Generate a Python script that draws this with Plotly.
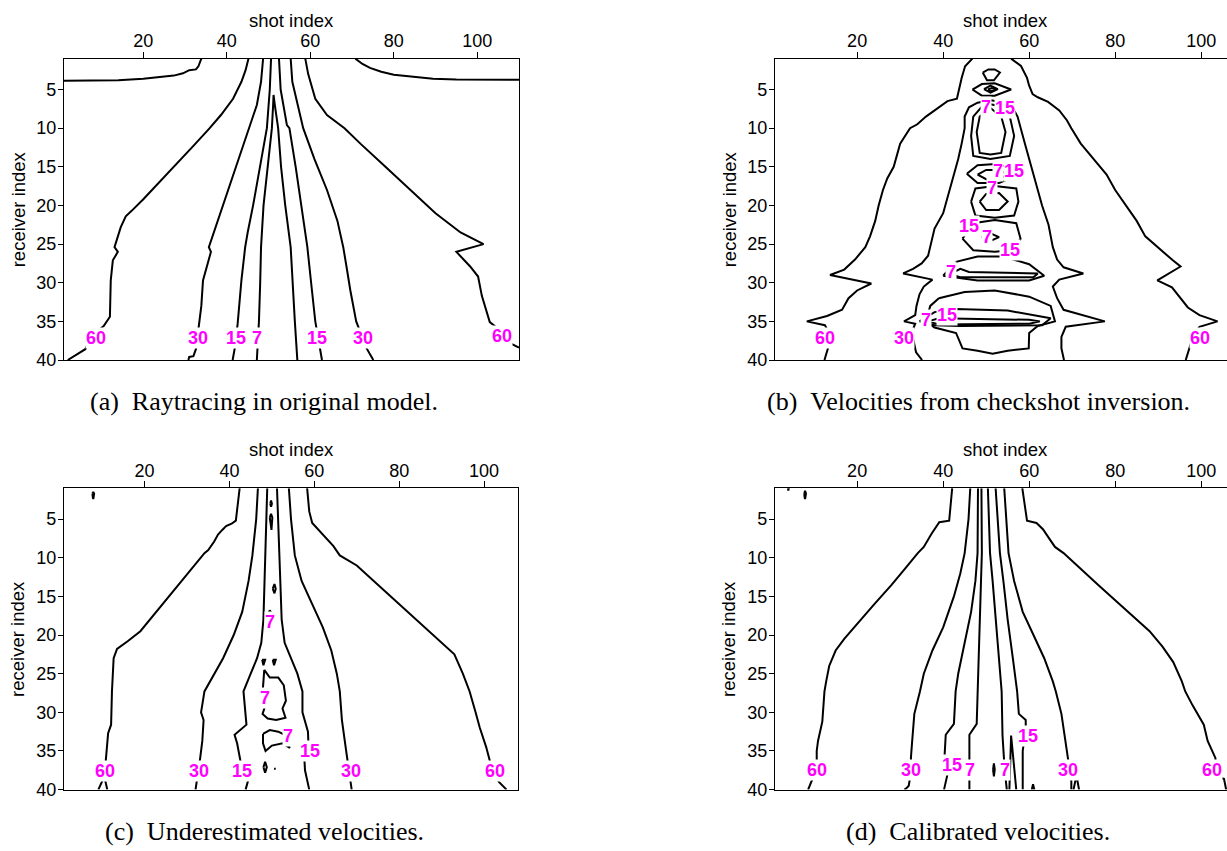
import plotly.graph_objects as go

W, H = 1227, 851
FONT = "Liberation Sans"
MAGENTA = "#ff00ff"

# ---------------- (a) Raytracing in original model ----------------
a_60_corner_l = [(1, 3.85), (8, 3.85), (14, 3.8), (20, 3.6), (24, 3.4), (27.3, 3.2), (29.5, 2.9),
                 (31, 2.5), (32.6, 2.4), (33.2, 2.0), (33.9, 1)]
a_60_corner_r = [(70.8, 1), (72.5, 1.7), (74.3, 2.2), (77, 2.7), (80, 3.1), (85, 3.4), (89.4, 3.6),
                 (95, 3.7), (102, 3.75), (110, 3.75)]
a_60_left = [(45.2, 1), (44.5, 2.5), (43.5, 4), (41.5, 6.2), (38.6, 8.3), (35.9, 10), (32, 12.3),
             (28, 14.6), (24, 17), (20, 19.2), (17.2, 20.7), (15.8, 21.4), (14.6, 22.8), (13.8, 24.3),
             (13.1, 25.4), (13.9, 26), (12.7, 27.1), (12.2, 29.7), (12.0, 34.4), (10.5, 35.6),
             (7.5, 37), (6.1, 38.6), (1.9, 40)]
a_30_left = [(48.7, 1), (48.2, 4), (47.2, 7), (45.3, 10), (43.5, 13), (41, 17), (38.5, 21), (36.5, 24),
             (35.7, 25.4), (36.2, 26), (35.3, 27.9), (34.3, 29.7), (33.9, 33), (33.4, 35.3),
             (32.6, 38.6), (32, 39.5), (31, 39.6), (30.8, 40)]
a_15_left = [(50.6, 1), (50.3, 5), (49.6, 10), (48, 15), (46.3, 20), (45, 23.5), (44.4, 25.4),
             (43.5, 29.7), (42.6, 35.3), (41.9, 38.5), (41.4, 40)]
a_7 = [(47.2, 40), (47.7, 35), (48.0, 30), (48.2, 25.4), (48.8, 20), (49.8, 15), (50.8, 10),
       (51.1, 7), (51.2, 5.7), (51.5, 7), (52.3, 10), (53, 15), (54, 20), (55.3, 25.4), (55.7, 30),
       (56.3, 35), (56.9, 40)]
a_15_right = [(52.5, 1), (52.9, 5), (54.4, 9.6), (55, 10), (56.5, 15), (57.8, 20), (59.3, 25.4),
              (60.2, 30), (61.2, 35), (62.8, 40)]
a_30_right = [(55.3, 1), (55.7, 4), (57, 7), (58.3, 10), (61, 14), (64, 18), (66.5, 22), (67.9, 25.4),
              (68.7, 28), (69.6, 31), (71, 35), (73.5, 38.5), (75.1, 40)]
a_60_right = [(58.8, 1), (59.5, 3), (61.2, 6.2), (64, 8.3), (68.2, 10), (72, 12), (78, 15), (84, 18),
              (90, 21), (96, 23.5), (101.5, 25.0), (95, 26), (98.3, 27.9), (100.2, 29.2),
              (101.1, 31.7), (103, 35.1), (104.4, 35.7), (106, 37), (108.2, 37.9), (110, 38.4)]
a_paths = [a_60_corner_l, a_60_corner_r, a_60_left, a_30_left, a_15_left, a_7,
           a_15_right, a_30_right, a_60_right]
a_labels = [("60", 8.7, 37.1), ("30", 33.2, 37.1), ("15", 42.3, 37.1), ("7", 47.2, 37.1),
            ("15", 61.7, 37.1), ("30", 72.6, 37.1), ("60", 105.9, 36.9)]

# ---------------- (b) Velocities from checkshot inversion ----------------
b_60_left = [(46.8, 1), (45.1, 2), (44.3, 3.5), (43.6, 5), (43.2, 6.2), (41, 6.5), (38.5, 7.5),
             (36, 8.5), (34, 9.5), (32.3, 10), (30, 12), (29, 14), (28.5, 15), (27, 16.5), (26, 18),
             (25, 20), (24.2, 22), (23, 24), (21.9, 25.4), (19.5, 27), (17, 28.3), (13.7, 29),
             (18, 29.5), (23.3, 30.1), (20, 31), (18, 32), (16.5, 33.5), (13, 34.3), (8.3, 35),
             (12.5, 35.5), (13, 36), (12.6, 37.2), (13.2, 38.5), (12.4, 40)]
b_60_right = [(55.8, 1), (58.1, 1.95), (59.5, 3.5), (60, 4.5), (60.8, 5.6), (62, 6), (64.4, 6.6),
              (67, 7.7), (68.8, 9), (69.8, 10), (72, 12), (75, 14), (78, 16), (80, 18), (82.5, 20),
              (85, 22), (87, 24), (89.8, 25.4), (93.4, 27.1), (95.2, 27.9), (89.8, 29.7),
              (93.2, 30.6), (95, 31.9), (96.9, 33.2), (99.6, 34.2), (103.8, 35), (99.6, 35.7),
              (98.5, 36.5), (97.8, 37.5), (96.9, 39.1), (96.4, 40)]
b_30 = [(35.1, 40), (33.7, 39), (33, 37.2), (33, 36), (33.5, 35.3), (30.9, 35), (33.5, 34.2),
        (33.8, 33), (34.5, 31.5), (35.5, 30.5), (37.5, 29.6), (30.7, 28.8), (33, 28.2), (35, 27.5),
        (36.5, 26.5), (37, 25.4), (38, 23), (40, 21), (41, 19), (42.5, 16), (43.5, 14), (44.3, 12),
        (45, 10), (45, 8.5), (46, 7.3), (48, 6.7), (51, 6.4), (54, 6.6), (56, 7.2), (57.3, 8.5),
        (58.1, 10), (59, 12), (60, 14), (61, 16), (62, 18), (63, 20), (64.5, 22.5), (65.5, 25.4),
        (66.5, 27), (68, 28), (72.6, 28.8), (67, 29.6), (65.5, 30.5), (66.5, 32), (68, 33.5),
        (77.6, 35), (68.5, 35.7), (67.5, 37), (67.5, 38.5), (68.1, 40)]
b_top_cup = [(49.2, 2.8), (50.5, 2.4), (52, 2.4), (53.2, 2.8), (51.8, 3.8), (50.2, 3.8), (49.2, 2.8)]
b_lens_outer = [(46.8, 5.0), (49, 4.3), (52, 4.2), (55.8, 5.0), (52, 5.8), (49, 5.8), (46.8, 5.0)]
b_lens_mid = [(49.5, 4.95), (51, 4.5), (52.7, 4.95), (51, 5.4), (49.5, 4.95)]
b_lens_in = [(50.4, 5.0), (51.3, 4.8), (52.2, 5.0), (51.3, 5.2), (50.4, 5.0)]
b_15_l1 = [(51, 6.9), (53.5, 7.2), (55.5, 8.5), (56.5, 11), (55.5, 13.6), (51, 14), (47, 13.6),
           (46.5, 11), (47, 8.5), (49, 7.2), (51, 6.9)]
b_7_l1 = [(51, 7.4), (53.5, 8.5), (54.5, 10.5), (53.5, 13.2), (51, 13.4), (48.5, 13.2),
          (47.8, 10.5), (48.5, 8.5), (51, 7.4)]
b_15_l2 = [(45.5, 15.9), (48, 14.8), (53, 14.6), (58, 15.9), (53, 17.1), (48, 17.1), (45.5, 15.9)]
b_7_l2 = [(48, 16.0), (50, 15.4), (53, 15.4), (55, 16.0), (53, 16.6), (50, 16.6), (48, 16.0)]
b_15_l3 = [(46.5, 19.5), (47.5, 17.8), (52, 17.5), (57, 17.8), (57.5, 19.5), (56.5, 21.3),
           (52, 21.6), (47.5, 21.3), (46.5, 19.5)]
b_7_l3 = [(48.5, 19.5), (50, 18.5), (53, 18.4), (55, 19.5), (53, 20.6), (50, 20.6), (48.5, 19.5)]
b_15_l4 = [(44.5, 24.3), (47, 22.3), (52, 21.9), (57, 22.3), (58, 24.3), (56, 25.8), (52, 26),
           (47, 25.8), (44.5, 24.3)]
b_7_l4 = [(49, 24.1), (51, 23.6), (53, 24.1), (51, 24.6), (49, 24.1)]
b_15_l5 = [(40, 29.1), (43, 27.3), (48, 26.6), (54, 26.6), (60, 27.6), (63.5, 29.1), (60, 29.7),
           (48, 29.7), (40, 29.1)]
b_7_l5 = [(41.5, 28.9), (44, 28.2), (46, 28.6), (62, 28.8), (61, 29.3), (44, 29.3), (41.5, 28.9)]
b_15_l6 = [(34.5, 35), (38, 33.8), (43, 33.4), (55, 33.6), (65, 34.6), (63, 35.5), (44, 35.6),
           (38, 35.5), (34.5, 35)]
b_7_l6 = [(36.5, 35), (39, 34.6), (60, 34.8), (62.5, 35.0), (60, 35.3), (39, 35.4), (36.5, 35)]
b_30_l7 = [(39, 32), (45, 31.2), (52, 31), (60, 31.8), (65, 33), (66, 35), (62, 35.6), (60, 36.5),
           (59.9, 38.5), (55, 38.8), (51.5, 39.2), (48, 38.8), (44.5, 38.5), (43, 36.5), (38, 35.8),
           (36, 35), (37, 33), (39, 32)]
b_paths = [b_60_left, b_60_right, b_30, b_top_cup, b_lens_outer, b_lens_mid, b_lens_in,
           b_15_l1, b_7_l1, b_15_l2, b_7_l2, b_15_l3, b_7_l3, b_15_l4, b_7_l4, b_15_l5, b_7_l5,
           b_15_l6, b_7_l6, b_30_l7]
b_labels = [("7", 50.0, 7.3), ("15", 54.4, 7.4), ("7", 52.8, 15.5), ("15", 56.4, 15.5),
            ("7", 51.4, 17.7), ("15", 46.0, 22.6), ("7", 50.2, 24.1), ("15", 55.6, 25.8),
            ("7", 41.8, 28.6), ("15", 40.9, 34.2), ("7", 35.9, 34.8), ("60", 12.6, 37.2),
            ("30", 31.0, 37.2), ("60", 99.7, 37.2)]

# ---------------- (c) Underestimated velocities ----------------
c_60_left = [(42.4, 1), (41.9, 3), (41.5, 5.2), (40.5, 5.6), (39.2, 5.9), (38.3, 6.4), (37.3, 7),
             (36.4, 7.9), (35, 9), (34.1, 9.4), (31, 11.5), (28, 13.5), (25, 15.5), (22, 17.5),
             (19, 19.5), (16, 20.8), (13.5, 21.8), (12.7, 23), (12.5, 25), (12.3, 27.3),
             (12.1, 31.6), (11.4, 32.7), (10.9, 35.9), (10.5, 38.3), (9.1, 40)]
c_60_tail = [(10.5, 38.3), (11.2, 40)]
c_30_left = [(46.7, 1), (46.3, 5), (45.4, 9.7), (44.5, 13), (43, 17), (41, 20), (38.5, 23),
             (36, 25.5), (34.1, 27.3), (33.6, 29), (33.3, 30), (33.9, 31), (33.6, 33.7),
             (33.1, 35.9), (32.4, 38.8), (32, 40)]
c_15_left = [(48.9, 1), (48.7, 5), (48.4, 9.7), (48.2, 14), (48.0, 18), (47.5, 21), (46.5, 23),
             (45, 25), (43.3, 27.3), (44, 31.6), (41.2, 32.9), (41.8, 34), (42.5, 35.8), (43, 37.5),
             (44.4, 38.8), (43.8, 40)]
c_15_right = [(51.2, 1), (51.5, 5), (51.8, 9.7), (52, 14), (52.3, 18), (53, 21), (54.5, 23),
              (56, 25), (57.2, 27.3), (57.2, 30), (58.5, 32.5), (58.6, 34), (57.6, 35.5),
              (57.8, 37.5), (58.8, 40)]
c_30_right = [(54, 1), (54.5, 5), (55.4, 9.7), (57, 13), (59.5, 16), (62, 19), (64, 22),
              (65.3, 25), (66, 27.3), (66.5, 31), (67.5, 35), (68.2, 37.6), (68.8, 40)]
c_60_right = [(58.3, 1), (58.8, 4), (59.5, 5.5), (62, 7), (64.5, 8.5), (66, 9.7), (70, 11),
              (74, 13), (78, 15), (82, 17), (86, 19), (90, 21), (93, 22.5), (95, 25), (96.6, 27.3),
              (98, 30), (99, 32), (100.5, 34.5), (102, 37.6), (103.5, 39), (105.3, 40)]
c_dot_corner = [(7.7, 1.7), (7.9, 1.5), (8.1, 1.7), (8.0, 2.2), (7.9, 2.4), (7.8, 2.2), (7.7, 1.7)]
c_7_dot1 = [(49.6, 3.0), (49.8, 2.6), (50.0, 3.0), (49.8, 3.4), (49.6, 3.0)]
c_7_drop = [(49.5, 4.8), (49.8, 4.3), (50.1, 4.8), (49.9, 6.4), (49.5, 4.8)]
c_7_mid1 = [(50.2, 14.0), (50.6, 13.4), (50.9, 14.0), (50.6, 14.6), (50.2, 14.0)]
c_7_mid2 = [(48.9, 17.5), (49.5, 16.8), (50.2, 17.5), (50.0, 19.0), (49.3, 19.0), (48.9, 17.5)]
c_7_tri1 = [(47.7, 23.2), (48.4, 23.2), (48.0, 23.9), (47.7, 23.2)]
c_7_tri2 = [(50.2, 23.2), (50.9, 23.2), (50.5, 23.9), (50.2, 23.2)]
c_7_big1 = [(48.2, 24.5), (49.5, 25.5), (51.5, 25.5), (52.8, 26.5), (53.3, 28.5), (52.5, 29.5),
            (53.2, 30.7), (51, 31.0), (49, 30.8), (47.8, 30.2), (48.5, 29), (47.8, 27.5),
            (48.2, 24.5)]
c_7_big2 = [(47.9, 32.8), (49.5, 32.3), (51.5, 32.5), (53.0, 32.9), (54.2, 34.6), (52.5, 34.0),
            (50, 34.3), (48.5, 35.0), (47.9, 34.0), (47.9, 32.8)]
c_7_diamond = [(48.0, 37.1), (48.4, 36.4), (48.8, 37.1), (48.4, 37.8), (48.0, 37.1)]
c_7_speck = [(50.5, 37.3), (50.9, 37.3)]
c_paths = [c_60_left, c_60_tail, c_30_left, c_15_left, c_15_right, c_30_right, c_60_right,
           c_dot_corner, c_7_dot1, c_7_drop, c_7_mid1, c_7_mid2, c_7_tri1, c_7_tri2, c_7_big1,
           c_7_big2, c_7_diamond, c_7_speck]
c_labels = [("7", 49.5, 18.3), ("7", 48.4, 28.2), ("7", 53.8, 33.1), ("15", 59.0, 35.0),
            ("60", 10.7, 37.6), ("30", 32.7, 37.6), ("15", 42.9, 37.6), ("30", 68.6, 37.6),
            ("60", 102.6, 37.6)]

# ---------------- (d) Calibrated velocities ----------------
d_60_left = [(42.1, 1), (41.8, 3), (41.4, 5.2), (39.1, 5.4), (37.3, 6.9), (35.5, 8.6), (34.1, 9.4),
             (31, 11.5), (28, 13.5), (24, 16), (20, 18.5), (17, 20.5), (15, 22), (13.5, 24),
             (12.8, 26), (12.4, 27.3), (11.9, 31.2), (10.9, 33.7), (10.6, 35), (10.6, 37.4),
             (9.7, 38.5), (8.6, 40)]
d_30_left = [(46.3, 1), (45.9, 5), (45, 9.4), (44, 12), (42.5, 15), (40, 19), (37.5, 22),
             (35.5, 25), (34.6, 27.3), (33.3, 30.2), (32.8, 33.7), (32.5, 35.9), (32.6, 37.4),
             (32, 39.5), (31.5, 39.8), (31, 40)]
d_15_left = [(48.1, 1), (48, 5), (48, 9.4), (47.5, 13), (46.5, 17), (45, 21), (43.5, 25),
             (42.9, 27.3), (42.5, 31.5), (40.6, 32.9), (40.3, 35.9), (41.5, 36.8), (40.5, 39),
             (40.2, 40)]
d_7_left = [(48.9, 1), (49, 5), (49, 9.4), (48.8, 13), (48.5, 18), (48.2, 23), (48, 27.3),
            (47.8, 31.5), (46.1, 32.9), (46.1, 37.4), (46.1, 40)]
d_7_right = [(50.4, 1), (50.6, 5), (50.9, 9.4), (51.5, 13), (52.2, 18), (53, 23), (53.6, 27.3),
             (53.8, 33), (54.3, 37.4), (54.8, 40)]
d_15_right = [(52.2, 1), (52.6, 5), (53.2, 9.4), (54, 13), (55, 18), (56.2, 23), (57.2, 27.3),
              (57.6, 30.2), (59.2, 31), (59.2, 32.1), (58.5, 35), (58.5, 40)]
d_30_right = [(54.2, 1), (54.6, 5), (55.2, 9.4), (56.5, 13), (58.5, 17), (61, 20), (63.5, 23),
              (65.5, 26), (66.2, 27.3), (67.5, 30.2), (68.5, 33.7), (69, 35.9), (69.8, 38.9),
              (69.8, 40)]
d_30_bump = [(70.3, 40), (71, 38.2), (71.6, 40)]
d_60_right = [(58.4, 1), (59.5, 5.2), (61.7, 5.5), (63.2, 6.3), (64.4, 7.3), (66, 8.6), (68, 9.4),
              (72, 11.5), (76, 13.5), (80, 15.5), (84, 17.5), (88, 19.5), (91, 21.5),
              (93.5, 23.5), (95.5, 26), (96.3, 27.3), (98, 29.1), (99.5, 30.5), (100.6, 31.6),
              (101.5, 33.7), (103.3, 35.9), (103.5, 37.4), (104.5, 38.5), (105.3, 38.6),
              (105.8, 40)]
d_dot_corner = [(3.9, 1.0), (4.1, 1.0), (4.0, 1.3), (3.9, 1.0)]
d_drop_corner = [(7.7, 1.7), (7.9, 1.35), (8.1, 1.7), (8.0, 2.2), (7.9, 2.4), (7.8, 2.2), (7.7, 1.7)]
d_7_oval = [(51.6, 37.4), (51.8, 36.6), (52.0, 37.4), (51.8, 38.3), (51.6, 37.4)]
d_7_spike = [(55.4, 40), (55.8, 33.0), (57.0, 40)]
d_15_bump = [(60.6, 40), (60.9, 39.3), (61.2, 40)]
d_paths = [d_60_left, d_30_left, d_15_left, d_7_left, d_7_right, d_15_right, d_30_right,
           d_30_bump, d_60_right, d_dot_corner, d_drop_corner, d_7_oval, d_7_spike, d_15_bump]
d_labels = [("60", 10.6, 37.4), ("30", 32.6, 37.4), ("15", 42.0, 36.8), ("7", 46.3, 37.4),
            ("7", 54.3, 37.4), ("15", 59.7, 33.1), ("30", 69.0, 37.4), ("60", 102.6, 37.4)]

# Tick values shared by every panel
shot_ticks = [20, 40, 60, 80, 100]
receiver_ticks = [5, 10, 15, 20, 25, 30, 35, 40]

# Panel boxes in pixels: (left, right, top, bottom); title_x is the centre of the full axis
panels = {
    "a": dict(box=(64, 519, 59.3, 364.3), xr=[1, 110], paths=a_paths, labels=a_labels,
              full=True, title_x=291, caption="(a)\u2002Raytracing in original model.", cap_x=264),
    "b": dict(box=(775, 1227, 59.3, 364.3), xr=[0.9, 106.0], paths=b_paths, labels=b_labels,
              full=False, title_x=1005, caption="(b)\u2002Velocities from checkshot inversion.",
              cap_x=978),
    "c": dict(box=(64, 518, 494, 799), xr=[1, 108], paths=c_paths, labels=c_labels,
              full=True, title_x=291, caption="(c)\u2002Underestimated velocities.", cap_x=264),
    "d": dict(box=(775, 1227, 494, 799), xr=[0.9, 106.0], paths=d_paths, labels=d_labels,
              full=False, title_x=1005, caption="(d)\u2002Calibrated velocities.", cap_x=978),
}

fig = go.Figure()
annotations = []

for i, (key, p) in enumerate(panels.items(), start=1):
    left, right, top, bottom = p["box"]
    xa = "xaxis" if i == 1 else f"xaxis{i}"
    ya = "yaxis" if i == 1 else f"yaxis{i}"
    xref = "x" if i == 1 else f"x{i}"
    yref = "y" if i == 1 else f"y{i}"

    for path in p["paths"]:
        fig.add_trace(go.Scatter(
            x=[pt[0] for pt in path], y=[pt[1] for pt in path],
            mode="lines", line=dict(color="black", width=2),
            hoverinfo="skip", showlegend=False, xaxis=xref, yaxis=yref))

    fig.layout[xa] = dict(
        domain=[left / W, right / W], range=p["xr"], side="top", anchor=yref,
        tickvals=shot_ticks, ticks="outside", ticklen=6, tickwidth=1, tickcolor="black",
        ticklabelstandoff=-3,
        showline=True, linecolor="black", linewidth=1.2, mirror=True,
        showgrid=False, zeroline=False,
        tickfont=dict(family=FONT, size=18, color="black"))
    fig.layout[ya] = dict(
        domain=[1 - bottom / H, 1 - top / H], range=[40, 1], anchor=xref,
        tickvals=receiver_ticks, ticks="outside", ticklen=5, tickwidth=1, tickcolor="black",
        ticklabelstandoff=-2,
        showline=True, linecolor="black", linewidth=1.2, mirror=p["full"],
        showgrid=False, zeroline=False,
        tickfont=dict(family=FONT, size=18, color="black"))

    for text, lx, ly in p["labels"]:
        annotations.append(dict(
            x=lx, y=ly, xref=xref, yref=yref, text=text, showarrow=False,
            font=dict(family=FONT, size=18, color=MAGENTA, weight="bold"),
            bgcolor="white", borderpad=0, xanchor="center", yanchor="middle"))

    # axis titles
    annotations.append(dict(
        x=p["title_x"] / W, y=1 - (top - 39) / H, xref="paper", yref="paper",
        text="shot index", showarrow=False, font=dict(family=FONT, size=18.5, color="black"),
        xanchor="center", yanchor="middle"))
    annotations.append(dict(
        x=(left - 46) / W, y=1 - ((top + bottom) / 2) / H, xref="paper", yref="paper",
        text="receiver index", textangle=-90, showarrow=False,
        font=dict(family=FONT, size=18.5, color="black"), xanchor="center", yanchor="middle"))
    # caption
    annotations.append(dict(
        x=p["cap_x"] / W, y=1 - (bottom + 42) / H, xref="paper", yref="paper",
        text=p["caption"], showarrow=False,
        font=dict(family="Liberation Serif", size=26, color="black"),
        xanchor="center", yanchor="middle"))

fig.update_layout(
    width=W, height=H, margin=dict(l=0, r=0, t=0, b=0),
    paper_bgcolor="white", plot_bgcolor="white",
    annotations=annotations, showlegend=False)

fig.write_html("out.html")
